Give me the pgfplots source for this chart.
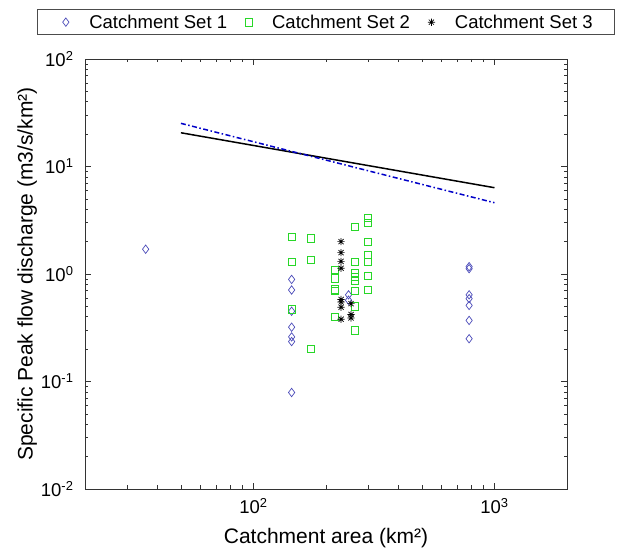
\documentclass[border=0pt]{standalone}
\usepackage{pgfplots}
\pgfplotsset{compat=1.18}
\usepackage{fontspec}
\setmainfont{Liberation Sans}

\definecolor{setone}{RGB}{75,75,185}
\definecolor{settwo}{RGB}{40,215,40}
\definecolor{lineblue}{RGB}{0,0,200}

\pgfdeclareplotmark{mstar}{%
  \pgfpathmoveto{\pgfqpoint{-\pgfplotmarksize}{0pt}}%
  \pgfpathlineto{\pgfqpoint{\pgfplotmarksize}{0pt}}%
  \pgfpathmoveto{\pgfqpoint{0pt}{-\pgfplotmarksize}}%
  \pgfpathlineto{\pgfqpoint{0pt}{\pgfplotmarksize}}%
  \pgfpathmoveto{\pgfqpoint{-.707\pgfplotmarksize}{-.707\pgfplotmarksize}}%
  \pgfpathlineto{\pgfqpoint{.707\pgfplotmarksize}{.707\pgfplotmarksize}}%
  \pgfpathmoveto{\pgfqpoint{-.707\pgfplotmarksize}{.707\pgfplotmarksize}}%
  \pgfpathlineto{\pgfqpoint{.707\pgfplotmarksize}{-.707\pgfplotmarksize}}%
  \pgfusepathqstroke}

\begin{document}
\begin{tikzpicture}
\begin{axis}[
  xmode=log, ymode=log,
  scale only axis, width=482bp, height=430bp,
  xmin=20, xmax=2000, ymin=0.01, ymax=100,
  xtick={100,1000},
  xticklabels={10\textsuperscript{2},10\textsuperscript{3}},
  ytick={0.01,0.1,1,10,100},
  yticklabels={10\textsuperscript{-2},10\textsuperscript{-1},10\textsuperscript{0},10\textsuperscript{1},10\textsuperscript{2}},
  minor xtick={30,40,50,60,70,80,90,200,300,400,500,600,700,800,900},
  minor ytick={0.02,0.03,0.04,0.05,0.06,0.07,0.08,0.09,0.2,0.3,0.4,0.5,0.6,0.7,0.8,0.9,2,3,4,5,6,7,8,9,20,30,40,50,60,70,80,90},
  tick align=inside,
  major tick length=6bp, minor tick length=3.5bp,
  axis line style={line width=0.8bp, black!80},
  every tick/.style={black!80, line width=0.6bp},
  tick label style={font=\fontsize{18.5bp}{21bp}\selectfont},
  xticklabel style={yshift=-6bp},
  yticklabel style={xshift=-8bp},
  xlabel={Catchment area (km²)},
  ylabel={Specific Peak flow discharge (m3/s/km²)},
  every axis x label/.style={at={(axis description cs:0.5,-0.083)}, anchor=north, font=\fontsize{21bp}{24bp}\selectfont},
  every axis y label/.style={at={(axis description cs:-0.12,0.5)}, rotate=90, anchor=center, font=\fontsize{21bp}{24bp}\selectfont},
  legend columns=3,
  legend image code/.code={%
    \path[draw=none, fill=none] (0cm,0cm) -- (0.6cm+13bp,0cm);
    \draw[#1, only marks] plot coordinates {(0.3cm,0cm)};},
  legend style={at={(0.5,1)}, anchor=south, yshift=24bp,
    draw=black!70, line width=0.8bp,
    font=\fontsize{18.5bp}{21bp}\selectfont,
    inner xsep=19.5bp, inner ysep=3bp,
    /tikz/every even column/.append style={column sep=11bp}},
]
% Catchment Set 1
\addplot[only marks, mark=diamond, mark size=4.2bp, setone, line width=0.7bp] coordinates {
 (35.7,1.70)
 (144,0.89) (144,0.71) (144,0.45) (144,0.32) (144,0.26) (144,0.235) (144,0.079)
 (248,0.64) (248,0.57)
 (785,1.17) (785,1.12) (785,0.64) (785,0.59) (785,0.51) (785,0.37) (785,0.25)
};
\addlegendentry{Catchment Set 1}
% Catchment Set 2
\addplot[only marks, mark=square, mark size=3.7bp, settwo, line width=0.7bp] coordinates {
 (144,2.22) (144,1.30) (144,0.47)
 (173,2.15) (173,1.35) (173,0.20)
 (217,1.09) (217,0.91) (217,0.72) (217,0.70) (217,0.40)
 (264,2.74) (264,1.29) (264,1.02) (264,0.94) (264,0.86) (264,0.70) (264,0.50) (264,0.30)
 (298,3.35) (298,3.00) (298,1.99) (298,1.50) (298,1.29) (298,0.96) (298,0.71)
};
\addlegendentry{Catchment Set 2}
% Catchment Set 3
\addplot[only marks, mark=mstar, mark size=3.6bp, black, line width=0.7bp] coordinates {
 (231,2.00) (231,1.58) (231,1.31) (231,1.13) (231,0.58) (231,0.55) (231,0.49) (231,0.38)
 (254,0.53) (254,0.42) (254,0.39)
};
\addlegendentry{Catchment Set 3}
% lines
\addplot[black, line width=1.5bp, forget plot] coordinates {(50,20.6) (1000,6.35)};
\addplot[lineblue, line width=1.5bp, dash pattern=on 5bp off 2.5bp on 1.5bp off 2.5bp, forget plot] coordinates {(50,25.2) (1000,4.6)};
\end{axis}
\pgfresetboundingbox
\path ([shift={(-85bp,-60bp)}]current axis.south west) rectangle ([shift={(58bp,59bp)}]current axis.north east);
\end{tikzpicture}
\end{document}
